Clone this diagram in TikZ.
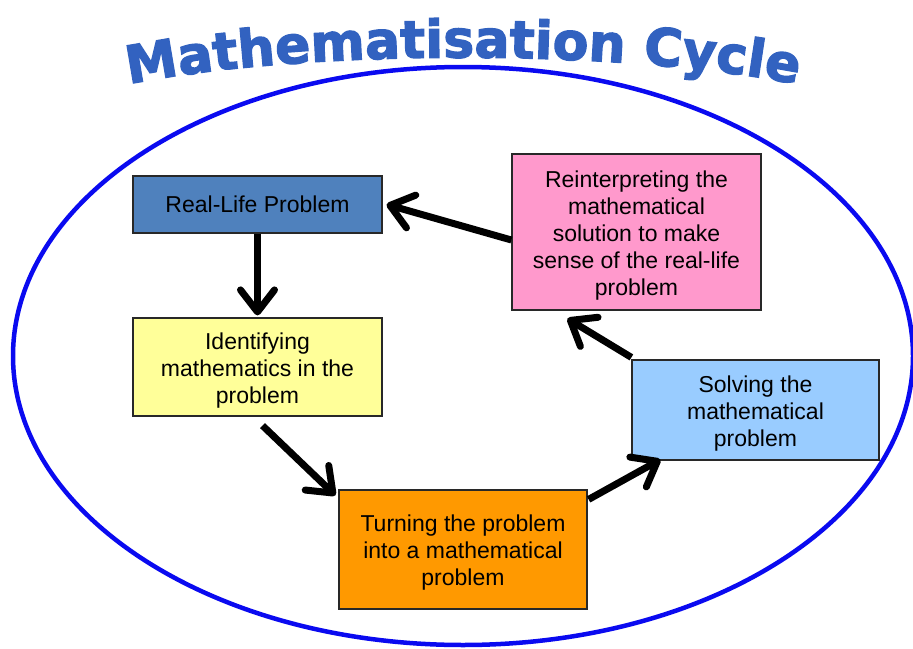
\documentclass[tikz,border=0pt]{standalone}
\usepackage{fontspec}
\setmainfont{Liberation Sans}
\newfontfamily\titlefont{DejaVu Sans}[BoldFeatures={FakeBold=2.5}]
\usetikzlibrary{arrows.meta,calc,decorations.text}
\definecolor{ringblue}{RGB}{10,10,240}
\definecolor{titleblue}{RGB}{50,98,192}
\definecolor{boxline}{RGB}{40,40,40}
\definecolor{realfill}{RGB}{79,129,189}
\definecolor{identfill}{RGB}{255,255,153}
\definecolor{turnfill}{RGB}{255,153,0}
\definecolor{solvefill}{RGB}{153,204,255}
\definecolor{reintfill}{RGB}{255,153,204}
\newcommand{\firstgap}{\rule{0pt}{23pt}}
\tikzset{
  stepbox/.style={draw=boxline, line width=1.2pt, inner sep=0pt, align=center,
    font=\fontsize{23}{27}\selectfont, text=black},
  flow/.style={line width=7pt, -{Straight Barb[length=22pt,width=34pt,round]}},
}
\begin{document}
\begin{tikzpicture}[x=1pt,y=-1pt]
\clip (0,0) rectangle (913,648);
\fill[white] (0,0) rectangle (913,648);
% outer ellipse
\draw[ringblue, line width=4.5pt] (463,356) ellipse [x radius=450, y radius=289];
% title
\path[decorate, decoration={text along path, text align=center,
  text={|\titlefont\bfseries\fontsize{52}{52}\selectfont\color{titleblue}|Mathematisation Cycle}}]
  (120,86) .. controls (300,48) and (626,48) .. (806,86);
% boxes
\node[stepbox, fill=realfill, minimum width=249pt, minimum height=57pt] (real) at (257.5,204.5) {Real-Life Problem};
\node[stepbox, fill=identfill, minimum width=249pt, minimum height=98pt] (ident) at (257.5,367) {\firstgap Identifying\\mathematics in the\\problem};
\node[stepbox, fill=turnfill, minimum width=248pt, minimum height=119pt] (turn) at (463,549.5) {\firstgap Turning the problem\\into a mathematical\\problem};
\node[stepbox, fill=solvefill, minimum width=247pt, minimum height=100pt] (solve) at (755.5,410) {\firstgap Solving the\\mathematical\\problem};
\node[stepbox, fill=reintfill, minimum width=249pt, minimum height=156pt] (reint) at (636.5,232) {\firstgap Reinterpreting the\\mathematical\\solution to make\\sense of the real-life\\problem};
% arrows
\draw[flow] ($(reint.west)+(0,8)$) -- ($(real.east)+(4,0)$);
\draw[flow] (real.south) -- ($(ident.north)+(0,-2)$);
\draw[flow] ($(ident.south)+(5,9)$) -- ($(turn.north west)+(-3,6)$);
\draw[flow] ($(turn.north east)+(1,10)$) -- ($(solve.south west)+(29,-1)$);
\draw[flow] ($(solve.north west)+(0,-2)$) -- ($(reint.south west)+(56,8)$);
\end{tikzpicture}
\end{document}
